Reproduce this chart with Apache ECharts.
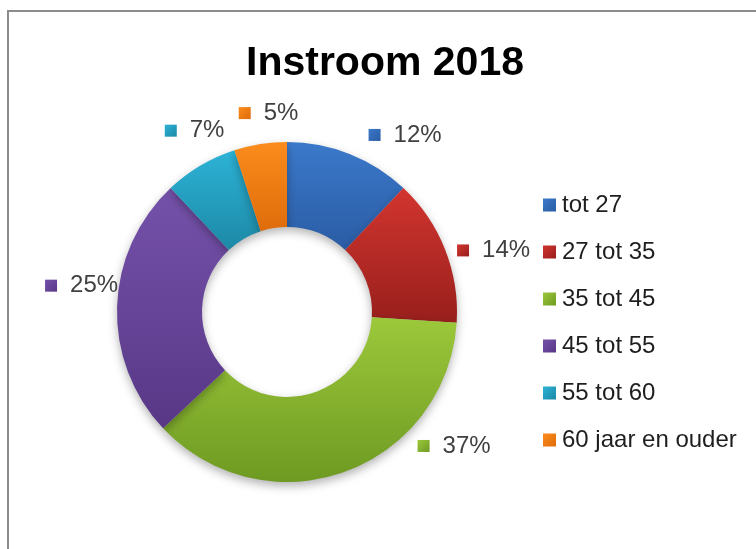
<!DOCTYPE html>
<html>
<head>
<meta charset="utf-8">
<script src="https://cdn.jsdelivr.net/npm/echarts@6/dist/echarts.min.js"></script>
<style>
  html, body { margin: 0; padding: 0; background: #fff; }
  #chart { position: absolute; left: 0; top: 0; width: 756px; height: 549px; }
  #frame { position: absolute; left: 7px; top: 10px; width: 800px; height: 600px;
           border-top: 2px solid #8c8c8c; border-left: 2px solid #8c8c8c; pointer-events: none; }
</style>
</head>
<body>
<div id="chart"></div>
<div id="frame"></div>
<script>
const titleText = 'Instroom 2018';
const categories = ['tot 27', '27 tot 35', '35 tot 45', '45 tot 55', '55 tot 60', '60 jaar en ouder'];
const values = [12, 14, 37, 25, 7, 5];
const colorsTop = ['#3b79ca', '#d2352f', '#9cc83b', '#7552aa', '#2cb3d6', '#fb8c1c'];
const colorsBottom = ['#2a5ca4', '#981f1c', '#6e9a22', '#583786', '#1d88a6', '#df6c0a'];
// label offsets (styling only)
const labelDx = [19, 12, 73, 1, 24, 38];
const labelDy = [-19, 1, -26, -21, -35, -31];

const FONT = '"Liberation Sans", Arial, sans-serif';

function grad(i, diag) {
  return { type: 'linear', x: 0, y: 0, x2: diag ? 1 : 0, y2: 1,
    colorStops: [{ offset: 0, color: colorsTop[i] }, { offset: 1, color: colorsBottom[i] }] };
}

const rich = { t: { fontSize: 24, color: '#404040', fontFamily: FONT, padding: [0, 0, 0, 13] } };
categories.forEach((c, i) => {
  rich['m' + i] = { width: 12, height: 12, backgroundColor: grad(i, true) };
});

const data = categories.map((c, i) => ({
  name: c,
  value: values[i],
  itemStyle: { color: grad(i, false) }
}));

const chart = echarts.init(document.getElementById('chart'), null, { renderer: 'canvas' });
chart.setOption({
  animation: false,
  backgroundColor: 'transparent',
  title: {
    text: titleText,
    left: 246, top: 43, padding: 0,
    textStyle: { fontFamily: FONT, fontWeight: 'bold', fontSize: 41, color: '#000' }
  },
  legend: {
    orient: 'vertical',
    left: 543, top: 193, padding: 0,
    itemWidth: 13, itemHeight: 13, itemGap: 23,
    icon: 'rect',
    data: categories.map((c, i) => ({ name: c, itemStyle: { color: grad(i, true) } })),
    textStyle: { fontFamily: FONT, fontSize: 24, color: '#1e1e1e', padding: [0, 0, 0, 1] }
  },
  series: [{
    type: 'pie',
    center: [287, 312],
    radius: [85, 170],
    startAngle: 90,
    clockwise: true,
    avoidLabelOverlap: false,
    data: data,
    itemStyle: { shadowBlur: 10, shadowColor: 'rgba(0,0,0,0.3)', shadowOffsetY: 4 },
    label: {
      show: true,
      position: 'outside',
      distanceToLabelLine: 0,
      formatter: p => '{m' + p.dataIndex + '|}{t|' + p.value + '%}',
      rich: rich
    },
    labelLine: { show: false, length: 0, length2: 0 },
    labelLayout: p => ({ dx: labelDx[p.dataIndex], dy: labelDy[p.dataIndex] }),
    emphasis: { disabled: true }
  }]
});
</script>
</body>
</html>
